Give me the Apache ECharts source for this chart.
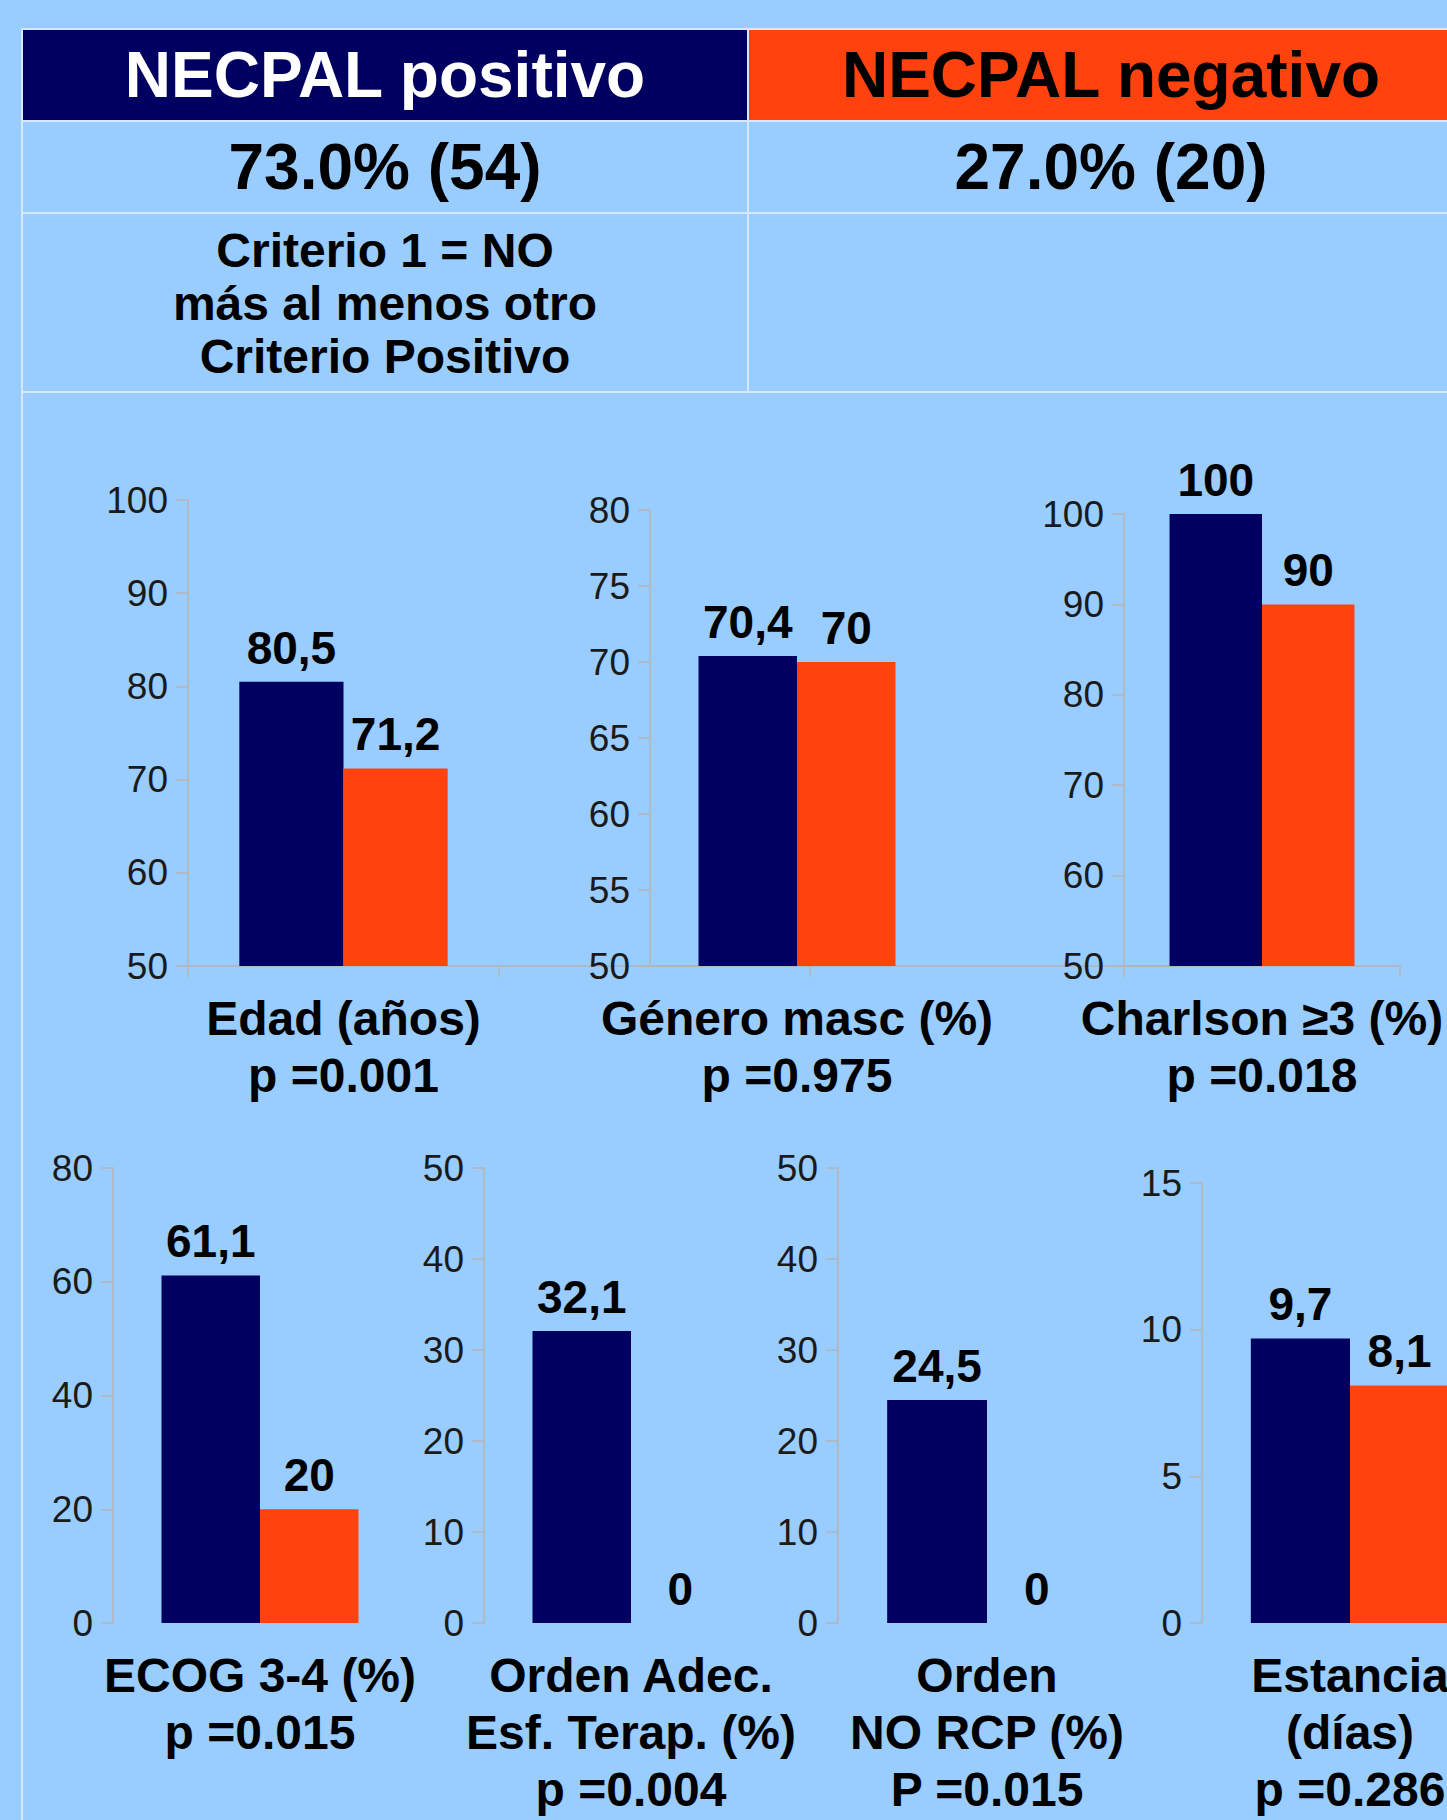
<!DOCTYPE html>
<html>
<head>
<meta charset="utf-8">
<script src="https://cdn.jsdelivr.net/npm/echarts@6/dist/echarts.min.js"></script>
<style>
  html, body { margin: 0; padding: 0; background: #99ccff; }
  body { width: 1447px; height: 1820px; position: relative; overflow: hidden; font-family: 'Liberation Sans', Arial, sans-serif; }
  #chart { position: absolute; left: 0; top: 0; width: 1600px; height: 1820px; }
  .cell { position: absolute; box-sizing: border-box; display: flex; align-items: center; justify-content: center;
          text-align: center; font-weight: bold; border-top: 2px solid #d4e8ff; border-left: 2px solid #d4e8ff; }
  .line { position: absolute; background: #d4e8ff; }
</style>
</head>
<body>
<div id="chart"></div>
<div class="cell" style="left:21px;top:28px;width:726px;height:92px;background:#000060;color:#fff;font-size:64px;">NECPAL positivo</div>
<div class="cell" style="left:747px;top:28px;width:726px;height:92px;background:#ff420e;color:#000;font-size:64px;">NECPAL negativo</div>
<div class="cell" style="left:21px;top:120px;width:726px;height:92px;font-size:64px;">73.0% (54)</div>
<div class="cell" style="left:747px;top:120px;width:726px;height:92px;font-size:64px;">27.0% (20)</div>
<div class="cell" style="left:21px;top:212px;width:726px;height:180px;font-size:48px;line-height:53px;">Criterio 1 = NO<br>más al menos otro<br>Criterio Positivo</div>
<div class="cell" style="left:747px;top:212px;width:726px;height:180px;"></div>
<div class="line" style="left:21px;top:391px;width:1430px;height:2px;"></div>
<div class="line" style="left:21px;top:391px;width:2px;height:1430px;"></div>
<script>
const categories = ['Edad (años)', 'Género masc (%)', 'Charlson ≥3 (%)', 'ECOG 3-4 (%)',
  'Orden Adec.\nEsf. Terap. (%)', 'Orden\nNO RCP (%)', 'Estancia\n(días)'];
const pValues = ['p =0.001', 'p =0.975', 'p =0.018', 'p =0.015', 'p =0.004', 'P =0.015', 'p =0.286'];
const positivo = [80.5, 70.4, 100, 61.1, 32.1, 24.5, 9.7];
const negativo = [71.2, 70, 90, 20, 0, 0, 8.1];
const axisMin = [50, 50, 50, 0, 0, 0, 0];
const axisMax = [100, 80, 100, 80, 50, 50, 15];
const axisStep = [10, 5, 10, 20, 10, 10, 5];

// layout of each small chart (px)
const panels = [
  { left: 188, top: 500, width: 622, height: 466, slots: 2, base: true, ticks: true },
  { left: 650, top: 510, width: 588, height: 456, slots: 2, base: true, ticks: false },
  { left: 1124, top: 514, width: 276, height: 452, slots: 1, base: true, ticks: true },
  { left: 113, top: 1168, width: 294, height: 455, slots: 1, base: false, ticks: false },
  { left: 484, top: 1168, width: 294, height: 455, slots: 1, base: false, ticks: false },
  { left: 838, top: 1168, width: 298, height: 455, slots: 1, base: false, ticks: false },
  { left: 1202, top: 1183, width: 296, height: 440, slots: 1, base: false, ticks: false },
];

const NAVY = '#000060';
const ORANGE = '#ff420e';
const AXIS = '#b4b4b4';
const FONT = "'Liberation Sans', Arial, sans-serif";

const valueLabel = {
  show: true,
  position: 'top',
  distance: 11,
  color: '#000',
  fontFamily: FONT,
  fontWeight: 'bold',
  fontSize: 46,
  formatter: (p) => String(p.value).replace('.', ','),
};

const getChartOptions = () => {
  const grid = [];
  const xAxis = [];
  const yAxis = [];
  const series = [];
  panels.forEach((pn, i) => {
    grid.push({ left: pn.left, top: pn.top, width: pn.width, height: pn.height });
    const data = [categories[i]];
    while (data.length < pn.slots) data.push('');
    xAxis.push({
      type: 'category',
      gridIndex: i,
      data,
      axisLine: { show: pn.base, lineStyle: { color: AXIS, width: 1.5 } },
      axisTick: { show: pn.ticks, length: 11, lineStyle: { color: AXIS, width: 1.5 } },
      axisLabel: {
        interval: 0,
        margin: 24,
        color: '#000',
        fontFamily: FONT,
        fontWeight: 'bold',
        fontSize: 48,
        lineHeight: 57,
        formatter: (v) => (v ? v + '\n' + pValues[i] : ''),
      },
    });
    yAxis.push({
      type: 'value',
      gridIndex: i,
      min: axisMin[i],
      max: axisMax[i],
      interval: axisStep[i],
      splitLine: { show: false },
      axisLine: { show: true, lineStyle: { color: AXIS, width: 1.5 } },
      axisTick: { show: true, length: 12, lineStyle: { color: AXIS, width: 1.5 } },
      axisLabel: { margin: 20, color: '#1a1a1a', fontFamily: FONT, fontSize: 37 },
    });
    series.push({
      type: 'bar',
      xAxisIndex: i,
      yAxisIndex: i,
      data: [positivo[i]],
      barGap: '0%',
      barCategoryGap: '33%',
      itemStyle: { color: NAVY },
      label: valueLabel,
    });
    series.push({
      type: 'bar',
      xAxisIndex: i,
      yAxisIndex: i,
      data: [negativo[i]],
      barGap: '0%',
      barCategoryGap: '33%',
      itemStyle: { color: ORANGE },
      label: valueLabel,
    });
  });
  return { animation: false, backgroundColor: 'transparent', grid, xAxis, yAxis, series };
};

const chart = echarts.init(document.getElementById('chart'), null, { renderer: 'svg' });
chart.setOption(getChartOptions());
</script>
</body>
</html>
